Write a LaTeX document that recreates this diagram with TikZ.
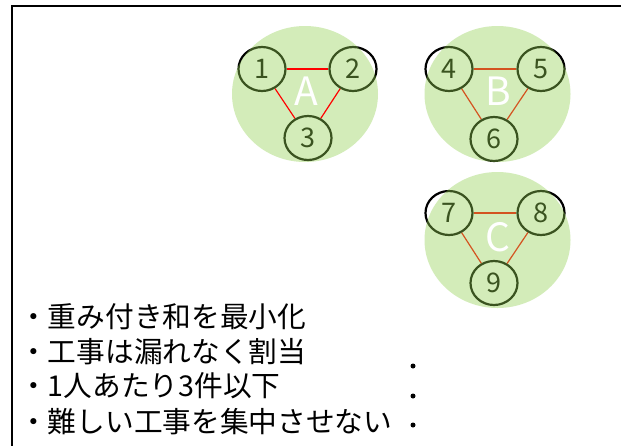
\documentclass[tikz,border=0pt]{standalone}
\usepackage{fontspec}
\setmainfont{Noto Sans CJK JP}
\usetikzlibrary{shapes.geometric}
\definecolor{lgreen}{RGB}{146,208,80}
\tikzset{
  num/.style={ellipse, draw=black, line width=2.2pt, minimum width=47pt, minimum height=44pt, inner sep=0pt, font=\fontsize{27}{27}\selectfont, text=black},
  grp/.style={ellipse, fill=lgreen, fill opacity=0.4, draw=none, minimum width=146pt, minimum height=136pt, inner sep=0pt},
  glabel/.style={text=white, font=\fontsize{39}{39}\selectfont, inner sep=0pt},
  edge/.style={red, line width=1.2pt},
  bullet/.style={anchor=west, inner sep=0pt, font=\fontsize{28.7}{28.7}\selectfont},
  tdot/.style={circle, fill=black, inner sep=0pt, minimum size=5pt}
}
\begin{document}
\begin{tikzpicture}[x=1pt, y=-1pt]
\useasboundingbox (0,0) rectangle (621,445);
\fill[white] (0,0) rectangle (621,445);
% frame
\coordinate (fb) at (12,450);
\coordinate (fc) at (12,6);
\coordinate (fr) at (630,6);
\draw[line width=2.4pt] (fb) -- (fc) -- (fr);
% nodes
\node[num] (n1) at (262,69) {1};
\node[num] (n2) at (353,69) {2};
\node[num] (n3) at (308,138) {3};
\node[num] (n4) at (449,69) {4};
\node[num] (n5) at (541,69) {5};
\node[num] (n6) at (494,139) {6};
\node[num] (n7) at (449,213) {7};
\node[num] (n8) at (541,213) {8};
\node[num] (n9) at (494,283) {9};
% edges under green (B, C)
\draw[edge] (n4) -- (n5);
\draw[edge] (n4) -- (n6);
\draw[edge] (n5) -- (n6);
\draw[edge] (n7) -- (n8);
\draw[edge] (n7) -- (n9);
\draw[edge] (n8) -- (n9);
% green groups
\node[grp] (gA) at (305,94) {};
\node[grp] (gB) at (497.5,94) {};
\node[grp] (gC) at (497.5,240) {};
% edges over green (A)
\draw[edge] (n1) -- (n2);
\draw[edge] (n1) -- (n3);
\draw[edge] (n2) -- (n3);
% group labels
\node[glabel] (lA) at (306,91) {A};
\node[glabel] (lB) at (498,91) {B};
\node[glabel] (lC) at (498,237) {C};
% text
\node[bullet] (t1) at (19,317) {・重み付き和を最小化};
\node[bullet] (t2) at (19,352) {・工事は漏れなく割当};
\node[bullet] (t3) at (19,386) {・1人あたり3件以下};
\node[bullet] (t4) at (19,422) {・難しい工事を集中させない};
% dots
\node[tdot] (d1) at (413,366) {};
\node[tdot] (d2) at (413,396) {};
\node[tdot] (d3) at (413,425) {};
\end{tikzpicture}
\end{document}
